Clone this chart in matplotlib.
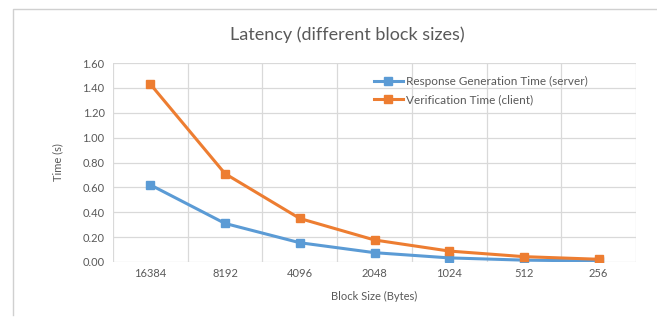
import matplotlib.pyplot as plt
import numpy as np
from matplotlib.lines import Line2D

block_sizes = ["16384", "8192", "4096", "2048", "1024", "512", "256"]
server_time = [0.62, 0.31, 0.155, 0.075, 0.033, 0.015, 0.008]
client_time = [1.43, 0.71, 0.35, 0.177, 0.088, 0.043, 0.022]
y_ticks = [0.0, 0.2, 0.4, 0.6, 0.8, 1.0, 1.2, 1.4, 1.6]

BLUE = "#5B9BD5"
ORANGE = "#ED7D31"
TEXT = "#595959"
GRID = "#D9D9D9"

plt.rcParams["font.family"] = ["Lato", "DejaVu Sans"]

W, H = 657, 330
fig = plt.figure(figsize=(W / 100, H / 100), dpi=100)
fig.patch.set_facecolor("white")

# chart border (left and top edges visible in the crop)
fig.add_artist(Line2D([13 / W, 13 / W, 1.0], [1 - 315 / H, 1 - 9 / H, 1 - 9 / H],
                      transform=fig.transFigure, color="#D0D0D0", lw=1.0))

ax = fig.add_axes([113 / W, 1 - 262 / H, (636 - 113) / W, (262 - 63) / H])
x = np.arange(len(block_sizes))

ax.plot(x, server_time, color=BLUE, lw=2.2, marker="s", ms=6, label="Response Generation Time (server)")
ax.plot(x, client_time, color=ORANGE, lw=2.2, marker="s", ms=6, label="Verification Time (client)")

ax.set_xlim(-0.5, len(block_sizes) - 0.5)
ax.set_ylim(0, 1.6)
ax.set_yticks(y_ticks)
ax.set_yticklabels([f"{v:.2f}" for v in y_ticks])
ax.set_xticks(x)
ax.set_xticklabels(block_sizes)

ax.grid(False)
for b in np.arange(len(block_sizes) + 1) - 0.5:
    ax.axvline(b, color=GRID, lw=0.9, zorder=0)
for v in y_ticks:
    ax.axhline(v, color=GRID, lw=0.9, zorder=0)

for s in ax.spines.values():
    s.set_visible(False)
ax.tick_params(axis="both", which="both", length=0, colors=TEXT, labelsize=8)
ax.tick_params(axis="x", pad=4)
ax.tick_params(axis="y", pad=6)

ax.set_xlabel("Block Size (Bytes)", color=TEXT, fontsize=8, labelpad=9)
ax.set_ylabel("Time (s)", color=TEXT, fontsize=8, labelpad=14)
fig.text(347 / W, 1 - 35 / H, "Latency (different block sizes)",
         ha="center", va="center", fontsize=13, color=TEXT)

leg = ax.legend(loc="upper left", bbox_to_anchor=((366 - 113) / (636 - 113), 0.975), frameon=False,
                fontsize=8.5, handlelength=2.4, handletextpad=0.3, labelspacing=0.6,
                borderpad=0.2)
for t in leg.get_texts():
    t.set_color(TEXT)

fig.savefig("out.png", dpi=100)
